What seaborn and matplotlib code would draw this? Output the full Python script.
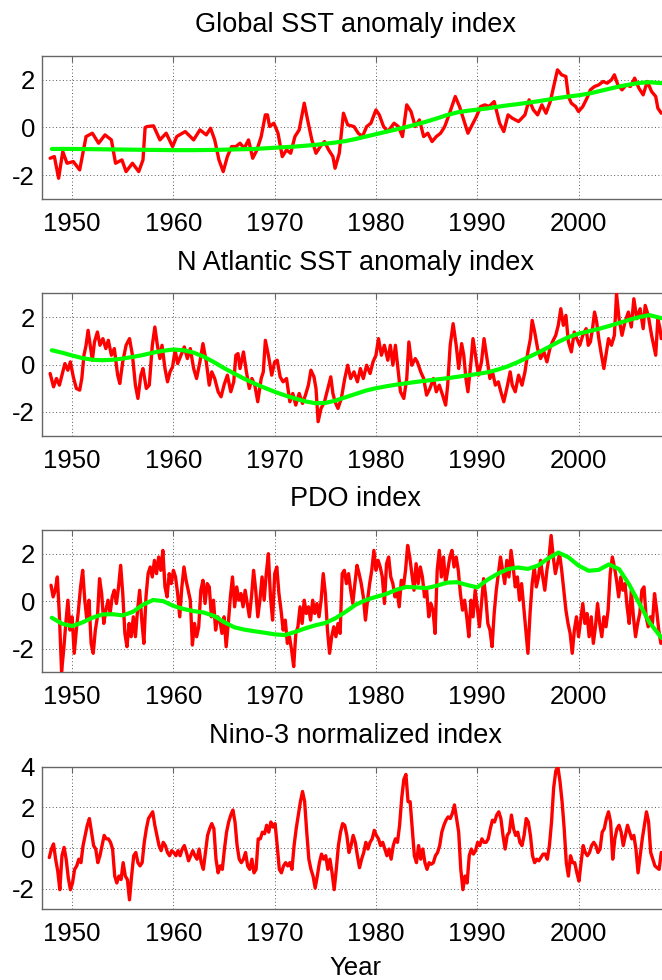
import numpy as np
import pandas as pd
import matplotlib
matplotlib.use("Agg")
import matplotlib.pyplot as plt
import seaborn as sns

# ---------------- data ----------------
titles = ["Global SST anomaly index", "N Atlantic SST anomaly index",
          "PDO index", "Nino-3 normalized index"]

glob_year = [1947.83, 1948.25, 1948.67, 1949.08, 1949.5, 1950.12, 1950.75, 1951.38, 1952.0, 1952.62,
             1953.25, 1953.88, 1954.29, 1954.92, 1955.33, 1955.96, 1956.58, 1957.0, 1957.21, 1957.42,
             1958.04, 1958.67, 1959.29, 1959.92, 1960.33, 1961.17, 1962.0, 1962.62, 1963.25, 1963.67,
             1964.08, 1964.5, 1964.92, 1965.33, 1965.75, 1966.17, 1966.58, 1967.0, 1967.42, 1967.83,
             1968.25, 1968.67, 1969.08, 1969.29, 1969.5, 1969.92, 1970.33, 1970.75, 1971.17, 1971.58,
             1972.0, 1972.42, 1972.92, 1973.25, 1973.67, 1974.08, 1974.5, 1974.92, 1975.33, 1975.75,
             1975.96, 1976.38, 1976.79, 1977.21, 1977.83, 1978.25, 1978.67, 1979.08, 1979.5, 1980.0,
             1980.33, 1980.75, 1981.17, 1981.79, 1982.21, 1982.62, 1983.04, 1983.46, 1983.88, 1984.29,
             1984.71, 1985.12, 1985.54, 1985.96, 1986.38, 1986.79, 1987.21, 1987.83, 1988.25, 1988.67,
             1989.08, 1989.5, 1989.92, 1990.33, 1990.75, 1991.17, 1991.67, 1992.21, 1992.62, 1993.04,
             1993.46, 1994.08, 1994.71, 1995.12, 1995.54, 1995.96, 1996.38, 1996.79, 1997.21, 1997.62,
             1997.92, 1998.33, 1998.75, 1999.0, 1999.29, 1999.71, 2000.0, 2000.42, 2000.83, 2001.17,
             2001.58, 2002.0, 2002.42, 2002.83, 2003.25, 2003.54, 2003.88, 2004.29, 2004.71, 2005.12,
             2005.54, 2005.96, 2006.38, 2006.79, 2007.21, 2007.62, 2007.83, 2008.17]
glob_val = [-1.29, -1.22, -2.13, -1.01, -1.50, -1.43, -1.78, -0.38, -0.24, -0.66,
            -0.31, -0.52, -1.50, -1.36, -1.85, -1.50, -1.85, -1.36, 0.0, 0.04,
            0.07, -0.52, -0.24, -0.80, -0.38, -0.17, -0.52, -0.10, -0.31, -0.03,
            -0.52, -1.36, -1.85, -1.22, -0.80, -0.80, -0.66, -0.87, -0.52, -1.29,
            -0.94, -0.38, 0.53, 0.53, 0.04, 0.18, -0.24, -1.22, -0.94, -1.08,
            -0.38, -0.10, 1.02, 0.32, -0.52, -1.08, -0.80, -0.59, -0.94, -1.22,
            -1.71, -1.08, 0.60, 0.11, 0.04, -0.24, -0.38, 0.04, 0.18, 0.74,
            0.53, 0.04, -0.17, 0.18, 0.04, -0.38, 0.95, 0.67, 0.04, 0.32,
            -0.38, -0.24, -0.59, -0.38, -0.24, 0.04, 0.53, 1.30, 0.88, 0.32,
            -0.24, 0.11, 0.46, 0.88, 0.95, 0.88, 1.09, 0.18, -0.17, 0.53,
            0.39, 0.25, 0.53, 1.16, 0.74, 0.53, 0.95, 0.60, 1.09, 1.86,
            2.42, 2.21, 2.14, 1.30, 1.02, 0.88, 0.67, 0.88, 1.23, 1.58,
            1.72, 1.79, 1.93, 1.86, 2.00, 2.21, 1.79, 1.58, 1.79, 1.72,
            2.07, 1.65, 1.37, 1.93, 1.51, 1.30, 0.81, 0.60]

glob_trend_year = [1948, 1950, 1952, 1954, 1956, 1958, 1960, 1962, 1964, 1966, 1968, 1970, 1972,
                   1974, 1976, 1977, 1978, 1979, 1980, 1981, 1982, 1983, 1984, 1985, 1986, 1987,
                   1988, 1989, 1990, 1991, 1992, 1993, 1994, 1995, 1996, 1997, 1998, 1999, 2000,
                   2001, 2002, 2003, 2004, 2005, 2006, 2007, 2008.2]
glob_trend = [-0.9, -0.9, -0.91, -0.92, -0.93, -0.94, -0.95, -0.95, -0.94, -0.92, -0.9, -0.85, -0.8,
              -0.73, -0.63, -0.57, -0.48, -0.38, -0.28, -0.18, -0.08, 0.02, 0.13, 0.25, 0.38, 0.52,
              0.63, 0.7, 0.75, 0.8, 0.87, 0.93, 0.98, 1.04, 1.1, 1.17, 1.24, 1.3, 1.35,
              1.42, 1.52, 1.62, 1.72, 1.8, 1.87, 1.9, 1.86]

natl_year = [1947.83, 1948.17, 1948.46, 1948.75, 1949.08, 1949.29, 1949.58, 1949.83, 1950.12, 1950.42,
             1950.75, 1950.96, 1951.17, 1951.38, 1951.58, 1951.79, 1952.0, 1952.21, 1952.5, 1952.75,
             1953.04, 1953.33, 1953.58, 1953.88, 1954.17, 1954.5, 1954.71, 1955.0, 1955.33, 1955.67,
             1955.96, 1956.25, 1956.5, 1956.79, 1957.0, 1957.33, 1957.62, 1957.92, 1958.17, 1958.42,
             1958.67, 1958.88, 1959.17, 1959.42, 1959.67, 1959.92, 1960.17, 1960.42, 1960.75, 1961.08,
             1961.38, 1961.67, 1962.0, 1962.29, 1962.62, 1962.92, 1963.25, 1963.54, 1963.79, 1964.08,
             1964.42, 1964.71, 1965.0, 1965.33, 1965.67, 1965.96, 1966.17, 1966.38, 1966.58, 1966.92,
             1967.21, 1967.5, 1967.75, 1968.04, 1968.33, 1968.67, 1968.88, 1969.08, 1969.38, 1969.71,
             1970.0, 1970.25, 1970.54, 1970.83, 1971.17, 1971.5, 1971.79, 1972.08, 1972.42, 1972.75,
             1973.04, 1973.33, 1973.58, 1973.88, 1974.08, 1974.29, 1974.58, 1974.92, 1975.25, 1975.54,
             1975.75, 1975.96, 1976.25, 1976.58, 1976.92, 1977.21, 1977.5, 1977.83, 1978.17, 1978.46,
             1978.75, 1979.08, 1979.42, 1979.71, 1980.0, 1980.25, 1980.54, 1980.83, 1981.17, 1981.42,
             1981.67, 1981.92, 1982.21, 1982.42, 1982.75, 1983.04, 1983.25, 1983.54, 1983.88, 1984.08,
             1984.42, 1984.71, 1985.0, 1985.33, 1985.67, 1985.96, 1986.25, 1986.58, 1986.88, 1987.08,
             1987.33, 1987.62, 1987.92, 1988.17, 1988.46, 1988.67, 1988.88, 1989.08, 1989.38, 1989.58,
             1989.83, 1990.12, 1990.42, 1990.67, 1990.96, 1991.25, 1991.5, 1991.79, 1992.08, 1992.33,
             1992.62, 1992.92, 1993.25, 1993.46, 1993.75, 1994.08, 1994.42, 1994.71, 1995.0, 1995.25,
             1995.42, 1995.67, 1995.96, 1996.25, 1996.58, 1996.88, 1997.17, 1997.42, 1997.75, 1998.0,
             1998.25, 1998.5, 1998.75, 1999.0, 1999.29, 1999.58, 1999.83, 2000.12, 2000.42, 2000.75,
             2000.96, 2001.17, 2001.38, 2001.58, 2001.79, 2002.0, 2002.21, 2002.5, 2002.75, 2002.96,
             2003.25, 2003.54, 2003.75, 2004.0, 2004.29, 2004.58, 2004.92, 2005.21, 2005.46, 2005.75,
             2006.08, 2006.38, 2006.58, 2006.88, 2007.21, 2007.42, 2007.62, 2007.83, 2008.04, 2008.17]
natl_val = [-0.38, -0.94, -0.59, -0.87, -0.31, 0.04, -0.24, 0.11, -0.52, -1.01,
            -1.08, -0.59, 0.39, 0.81, 1.44, 0.81, 0.18, 0.95, 1.37, 0.81,
            1.09, 0.67, 1.02, 0.39, 0.67, -0.45, -0.80, 0.11, 0.81, 1.09,
            0.39, -0.87, -1.43, -0.45, -0.17, -1.01, -0.87, 0.81, 1.58, 0.81,
            0.25, 0.81, -0.17, -0.73, -0.31, -0.10, 0.60, 0.04, 0.39, 0.74,
            0.25, 0.67, -0.17, -0.59, 0.11, 0.88, 0.11, -0.87, -0.31, -0.59,
            -1.15, -1.36, -0.87, -0.45, -1.15, -0.73, 0.39, 0.46, -0.17, 0.53,
            -0.31, -1.01, -0.59, -0.87, -1.57, -0.59, -0.31, 1.02, 0.39, -0.45,
            0.11, 0.18, -0.52, -0.73, -0.59, -1.57, -1.22, -1.71, -1.22, -1.64,
            -1.29, -0.87, -0.24, -0.52, -1.01, -2.41, -1.85, -1.57, -1.01, -0.52,
            -1.22, -1.57, -1.85, -1.43, -0.59, -0.03, -0.59, -0.31, -0.73, -0.17,
            -0.59, -0.03, -0.38, 0.11, 0.39, 1.09, 0.39, 0.81, 0.18, 0.81,
            -0.03, 0.81, -0.31, -1.15, -1.43, -0.59, 0.95, -0.03, 0.25, 0.11,
            -0.31, -0.59, -1.29, -1.01, -0.59, -1.15, -0.87, -1.29, -1.71, -0.87,
            0.81, 1.72, 0.81, -0.17, 0.88, 0.39, -0.59, -1.15, 0.11, 1.09,
            0.39, -0.45, 0.11, 1.09, 0.25, -0.59, -0.31, -0.87, -0.73, -1.15,
            -1.57, -1.01, -0.31, -0.87, -1.15, -0.45, -0.87, -0.31, 0.53, 1.09,
            1.86, 1.37, 0.67, 0.25, 0.53, 0.11, 0.67, 0.95, 1.23, 1.65,
            2.35, 1.65, 2.07, 0.95, 0.53, 1.37, 1.09, 0.81, 1.23, 1.51,
            0.81, 0.95, 1.51, 2.21, 1.79, 1.09, 0.53, -0.17, 0.53, 1.09,
            0.81, 1.23, 2.98, 1.93, 1.23, 1.79, 2.21, 1.58, 2.77, 1.93,
            2.35, 1.51, 2.49, 2.07, 1.23, 0.81, 0.39, 1.93, 1.51, 1.09]

natl_trend_year = list(range(1948, 2008)) + [2008.2]
natl_trend = [0.6, 0.5, 0.38, 0.27, 0.2, 0.18, 0.2, 0.25, 0.32, 0.4,
              0.5, 0.58, 0.63, 0.6, 0.5, 0.33, 0.1, -0.15, -0.38, -0.6,
              -0.8, -0.98, -1.15, -1.3, -1.43, -1.55, -1.63, -1.62, -1.52, -1.38,
              -1.24, -1.1, -1.0, -0.92, -0.85, -0.79, -0.73, -0.68, -0.63, -0.58,
              -0.52, -0.46, -0.4, -0.33, -0.22, -0.08, 0.1, 0.3, 0.5, 0.72,
              0.95, 1.15, 1.3, 1.4, 1.5, 1.62, 1.75, 1.88, 2.0, 2.08, 1.95]

# PDO: samples every 2.5 months starting 1947.92
pdo_start, pdo_step = 1947.92, 2.5 / 12
pdo_val = [0.67, 0.18, 0.46, 1.02, -0.66, -2.97, -2.06, -0.94, 0.04, -1.22,
           -0.66, -2.2, -1.22, -0.38, 0.6, 1.3, 0.04, -0.8, 0.04, -1.78,
           -2.2, -1.22, -0.66, 0.95, 0.32, -0.94, -0.38, 0.04, -0.52, 0.18,
           0.46, -0.1, 0.6, 1.51, 0.32, -1.36, -1.92, -0.94, -1.5, -0.66,
           -1.5, -0.38, 0.46, -0.8, -1.78, 0.18, 1.16, 1.44, 1.02, 1.72,
           1.16, 1.86, 1.3, 2.14, 0.6, 0.18, 1.16, 0.74, 1.3, 1.02,
           0.32, -0.66, 0.6, 1.44, 0.88, 0.46, 0.04, -1.85, -0.94, -1.5,
           -1.08, 0.46, 0.88, -0.1, 0.74, 0.6, -0.66, 0.04, -1.22, -0.66,
           -0.8, -1.36, -0.66, -1.92, -0.94, 0.18, 1.02, -0.24, 0.6, 0.04,
           0.32, -0.24, 0.46, -0.1, -0.66, 0.18, 1.3, 0.46, -0.66, 0.04,
           1.02, 0.04, 1.16, 2.0, 0.18, -0.8, 1.16, 1.44, 0.32, -0.38,
           -1.22, -0.8, -1.78, -1.5, -2.06, -2.76, -1.36, -1.08, -0.24, -0.94,
           0.04, -0.52, -0.24, -0.8, 0.04, -0.52, -0.1, -0.66, 0.04, 1.16,
           0.32, -1.22, -2.2, -1.5, -1.08, -1.5, -0.94, -1.36, 1.16, 1.3,
           0.74, 1.16, 0.46, -0.1, 0.74, 1.51, 1.16, 0.74, 0.18, -0.8,
           0.04, 0.74, 1.3, 2.14, 1.3, 1.72, 1.44, 1.02, -0.1, 1.58,
           1.86, 1.02, 0.74, 0.18, 0.46, -0.24, 0.88, 0.6, 1.3, 2.35,
           1.86, 1.16, 0.46, 1.58, 0.74, 1.44, 1.02, 0.18, 0.46, -0.66,
           -0.1, -0.38, -1.36, 1.3, 2.14, 1.02, 1.86, 0.74, 1.3, 1.86,
           2.14, 1.44, 1.86, 1.3, 0.32, -0.38, 0.04, -0.66, -1.5, 0.04,
           -0.66, 0.46, -0.24, -1.08, -0.1, 0.95, 0.18, -0.94, -1.22, -1.92,
           -0.52, 0.46, 1.16, 1.86, 1.3, 0.74, 1.72, 1.02, 2.14, 1.44,
           0.6, 1.02, 0.04, 0.74, -0.24, -1.22, -2.2, -0.52, 0.74, 1.44,
           0.6, 1.02, 1.72, 1.02, 0.46, 1.3, 1.86, 2.77, 1.86, 1.16,
           1.58, 2.0, 1.3, 0.46, -0.38, -0.94, -1.36, -2.2, -1.22, -0.66,
           -1.5, -0.8, -0.1, -0.94, -0.52, -1.5, -0.66, -1.78, -1.08, -0.1,
           -0.94, -1.5, -0.66, -1.08, -0.38, 1.16, 1.86, 1.44, 0.88, 0.18,
           1.02, 0.46, 0.74, -0.24, -0.94, 0.46, -0.66, -1.5, -0.94, -0.52,
           0.46, 0.6, -0.66, -1.08, -0.66, -0.94, 0.32, -0.38, -1.22, -1.78]
pdo_year = pdo_start + np.arange(len(pdo_val)) * pdo_step

pdo_trend_year = list(range(1948, 2008)) + [2008.2]
pdo_trend = [-0.7, -0.95, -1.05, -0.9, -0.7, -0.56, -0.55, -0.6, -0.45, -0.15,
             0.05, 0.0, -0.2, -0.33, -0.42, -0.48, -0.62, -0.88, -1.1, -1.2,
             -1.27, -1.33, -1.4, -1.43, -1.3, -1.15, -1.02, -0.92, -0.72, -0.45,
             -0.15, 0.05, 0.18, 0.3, 0.48, 0.6, 0.58, 0.55, 0.65, 0.78,
             0.8, 0.68, 0.58, 0.9, 1.15, 1.35, 1.42, 1.36, 1.5, 1.8,
             2.05, 1.85, 1.5, 1.28, 1.32, 1.55, 1.35, 0.7, -0.1, -0.9, -1.55]

# Nino-3: samples every 2.5 months starting 1947.75
nino_start, nino_step = 1947.75, 2.5 / 12
nino_val = [-0.47, -0.05, 0.2, -0.55, -1.13, -2.05, -0.38, 0.03, -0.55, -1.47,
            -2.05, -1.72, -1.05, -0.88, -0.55, -0.72, 0.12, 0.62, 1.12, 1.45,
            0.78, 0.12, -0.05, -0.72, -0.38, 0.12, 0.62, 0.45, 0.45, 0.28,
            -0.05, -1.38, -1.72, -1.38, -1.55, -0.72, -1.38, -1.55, -2.55, -1.38,
            -0.38, -0.22, -0.72, -0.88, -0.72, 0.28, 0.95, 1.45, 1.62, 1.78,
            1.12, 0.62, 0.12, -0.13, 0.28, 0.12, -0.22, -0.38, -0.13, -0.22,
            -0.38, -0.13, -0.38, -0.05, 0.12, -0.22, -0.63, -0.38, -0.13, -0.38,
            -0.55, -0.05, -0.72, -1.05, -0.22, 0.62, 0.95, 1.2, 0.95, -0.55,
            -1.22, -0.88, -1.05, -0.05, 0.78, 1.28, 1.62, 1.87, 1.28, 0.12,
            -0.55, -0.72, -0.55, -0.22, -0.88, -1.05, -0.55, -1.22, -1.05, 0.45,
            0.45, 0.78, 0.7, 1.12, 0.78, 1.28, 1.03, 1.2, 0.12, -1.05,
            -1.22, -0.88, -0.72, -0.88, -0.72, -1.05, 0.12, 0.95, 1.62, 2.28,
            2.78, 2.28, 0.78, -0.55, -1.05, -1.38, -1.97, -1.38, -0.72, -0.3,
            -0.55, -0.38, -1.05, -0.55, -1.22, -2.05, -1.05, 0.12, 0.78, 1.2,
            1.12, 0.62, -0.22, 0.12, 0.62, 0.28, -0.38, -0.97, -0.55, -0.22,
            0.28, -0.05, 0.28, 0.45, 0.87, 0.62, 0.45, 0.12, 0.28, -0.05,
            -0.38, -0.05, -0.55, 0.12, 0.45, 0.28, 1.12, 2.45, 3.37, 3.62,
            2.28, 2.28, 0.95, -0.38, -0.72, 0.12, -0.55, -0.05, -0.72, -1.05,
            -0.72, -0.8, -0.72, -0.38, -0.22, 0.12, 0.78, 1.12, 1.37, 1.53,
            1.45, 1.7, 2.12, 1.45, 0.78, -1.05, -2.05, -1.38, -1.72, -0.38,
            -0.05, -0.3, -0.13, 0.28, 0.12, 0.45, 0.28, 0.28, 0.45, 0.95,
            1.37, 1.28, 1.62, 1.78, 1.45, 0.62, -0.05, 0.62, 0.78, 1.62,
            0.95, 0.62, 0.78, 0.28, 0.12, 0.62, 1.45, 1.28, 0.62, -0.38,
            -0.72, -0.55, -0.63, -0.47, -0.3, -0.3, -0.55, 0.12, 1.28, 2.95,
            3.78, 4.0, 3.28, 2.28, 0.95, -0.72, -1.38, -0.38, -0.72, -0.72,
            -1.22, -1.63, -0.72, 0.12, -0.22, -0.38, -0.22, 0.12, 0.28, 0.12,
            -0.22, -0.05, 0.78, 0.95, 1.45, 1.78, 1.28, -0.55, 0.45, 0.95,
            1.12, 0.78, 0.12, 0.62, 1.12, 0.78, 0.45, 0.62, -0.05, -1.22,
            -0.38, 0.45, 1.12, 1.78, 1.28, -0.22, -0.55, -0.88, -0.97, -1.05,
            -0.22]
nino_year = nino_start + np.arange(len(nino_val)) * nino_step

xticks = [1950, 1960, 1970, 1980, 1990, 2000]
yticks_list = [[-2, 0, 2], [-2, 0, 2], [-2, 0, 2], [-2, 0, 2, 4]]
ylims = [(-3, 3), (-3, 3), (-3, 3), (-3, 4)]

# ---------------- style ----------------
sns.set_theme(style="white")
plt.rcParams["font.family"] = ["Liberation Sans", "DejaVu Sans"]

W, H = 662, 980
fig = plt.figure(figsize=(W / 100, H / 100), dpi=100)

left_px = 41.7
width_px = 628.0
tops = [56.0, 293.3, 530.0, 766.7]
bots = [199.0, 435.7, 672.3, 909.0]

series = [
    (glob_year, glob_val, glob_trend_year, glob_trend),
    (natl_year, natl_val, natl_trend_year, natl_trend),
    (pdo_year, pdo_val, pdo_trend_year, pdo_trend),
    (nino_year, nino_val, None, None),
]

for i in range(4):
    ax = fig.add_axes([left_px / W, 1 - bots[i] / H, width_px / W, (bots[i] - tops[i]) / H])
    x, y, tx, ty = series[i]
    sns.lineplot(x=np.asarray(x, float), y=np.asarray(y, float), ax=ax, color="#ff0000",
                 linewidth=2.4, estimator=None, sort=False, zorder=3)
    if tx is not None:
        sns.lineplot(x=np.asarray(tx, float), y=np.asarray(ty, float), ax=ax, color="#00ff00",
                     linewidth=3.0, estimator=None, sort=False, zorder=4)
    ax.set_xlim(1947, 2009)
    ax.set_ylim(*ylims[i])
    ax.set_xticks(xticks)
    ax.set_yticks(yticks_list[i])
    ax.set_xticklabels([str(t) for t in xticks])
    ax.set_yticklabels([str(t) for t in yticks_list[i]])
    ax.set_axisbelow(True)
    ax.grid(True, linestyle=(0, (1, 2.5)), color="0.35", linewidth=0.7)
    for s in ax.spines.values():
        s.set_color("0.4")
        s.set_linewidth(1.0)
    ax.tick_params(axis="both", direction="in", length=4, width=0.8, color="0.4",
                   labelsize=18.5, labelcolor="black", top=True, right=True)
    ax.tick_params(axis="x", pad=9.4)
    ax.tick_params(axis="y", pad=4.8)
    ax.set_title(titles[i], fontsize=19.5, pad=17, color="black")
    ax.set_ylabel("")
    ax.set_xlabel("")
    if i == 3:
        ax.set_xlabel("Year", fontsize=18.5, labelpad=7, color="black")

fig.savefig("out.png", dpi=100)
